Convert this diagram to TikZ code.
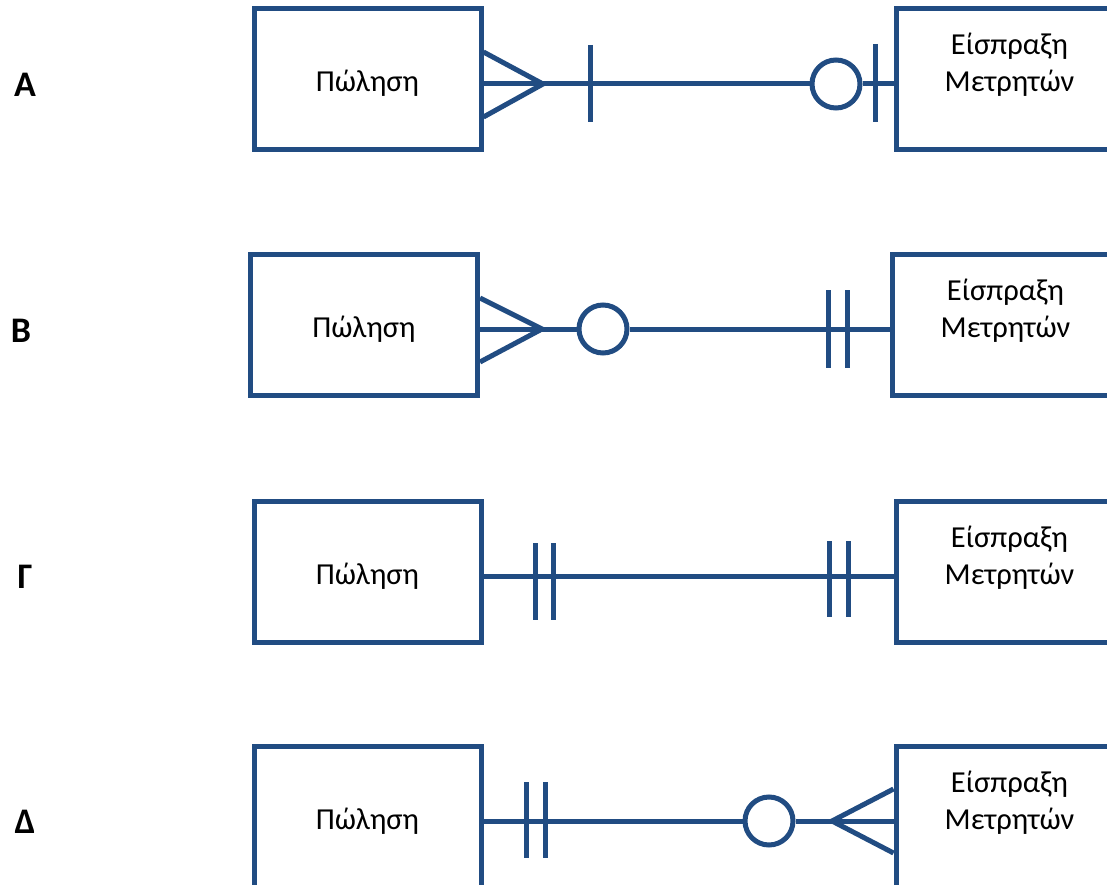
\documentclass[tikz,border=0pt]{standalone}
\usepackage{fontspec}
\setmainfont{Carlito}
\definecolor{erblue}{RGB}{33,76,130}
\tikzset{
 ent/.style={draw=erblue, line width=5pt, minimum width=227pt, minimum height=141pt, inner sep=0pt},
 rel/.style={draw=erblue, line width=5pt},
 txt/.style={font=\fontsize{30.5}{37}\selectfont, align=center, inner sep=0pt, anchor=base},
 lab/.style={font=\fontsize{36}{40}\selectfont\bfseries, inner sep=0pt},
 opt/.style={draw=erblue, line width=5pt, fill=white, circle, minimum size=48pt, inner sep=0pt}
}
\begin{document}
\begin{tikzpicture}[x=1pt,y=-1pt]
\useasboundingbox (0,0) rectangle (1107,885);
\clip (0,0) rectangle (1107,885);
% labels
\node[lab] (la) at (25,85) {Α};
\node[lab] (lb) at (21,331) {Β};
\node[lab] (lg) at (25,577) {Γ};
\node[lab] (ld) at (25,822) {Δ};
% Row A
\node[ent] (pa) at (367.5,79.5) {};
\node[txt] (pat) at (367.5,92) {Πώληση};
\node[ent] (ea) at (1009.5,79.5) {};
\node[txt] (eat) at (1009.5,92) {Είσπραξη\\Μετρητών};
\node[opt] (ca) at (836,84) {};
\draw[rel] (pa.east |- 0,84) -- (ca.west);
\draw[rel] (ca.east) -- (ea.west |- 0,84);
\draw[rel] (pa.east |- 0,52) -- (543,84) -- (pa.east |- 0,117);
\draw[rel] (590,45) -- (590,122);
\draw[rel] (875,44) -- (875,122);
% Row B
\node[ent] (pb) at (364,325) {};
\node[txt] (pbt) at (364,337.5) {Πώληση};
\node[ent] (eb) at (1005.5,325) {};
\node[txt] (ebt) at (1005.5,337.5) {Είσπραξη\\Μετρητών};
\node[opt] (cb) at (603,329) {};
\draw[rel] (pb.east |- 0,329) -- (cb.west);
\draw[rel] (cb.east) -- (eb.west |- 0,329);
\draw[rel] (pb.east |- 0,298) -- (542,329) -- (pb.east |- 0,362);
\draw[rel] (828,290) -- (828,368);
\draw[rel] (847,290) -- (847,368);
% Row G
\node[ent] (pg) at (367.5,571.5) {};
\node[txt] (pgt) at (367.5,584) {Πώληση};
\node[ent] (eg) at (1009.5,571.5) {};
\node[txt] (egt) at (1009.5,584) {Είσπραξη\\Μετρητών};
\draw[rel] (pg.east |- 0,576) -- (eg.west |- 0,576);
\draw[rel] (535,543) -- (535,620);
\draw[rel] (553,543) -- (553,620);
\draw[rel] (829,541) -- (829,617);
\draw[rel] (848,541) -- (848,617);
% Row D
\node[ent] (pd) at (367.5,816.5) {};
\node[txt] (pdt) at (367.5,829) {Πώληση};
\node[ent] (ed) at (1009.5,816.5) {};
\node[txt] (edt) at (1009.5,829) {Είσπραξη\\Μετρητών};
\node[opt] (cd) at (769,821) {};
\draw[rel] (pd.east |- 0,821) -- (cd.west);
\draw[rel] (cd.east) -- (ed.west |- 0,821);
\draw[rel] (ed.west |- 0,789) -- (832,821) -- (ed.west |- 0,853);
\draw[rel] (526,782) -- (526,858);
\draw[rel] (545,782) -- (545,858);
\end{tikzpicture}
\end{document}
